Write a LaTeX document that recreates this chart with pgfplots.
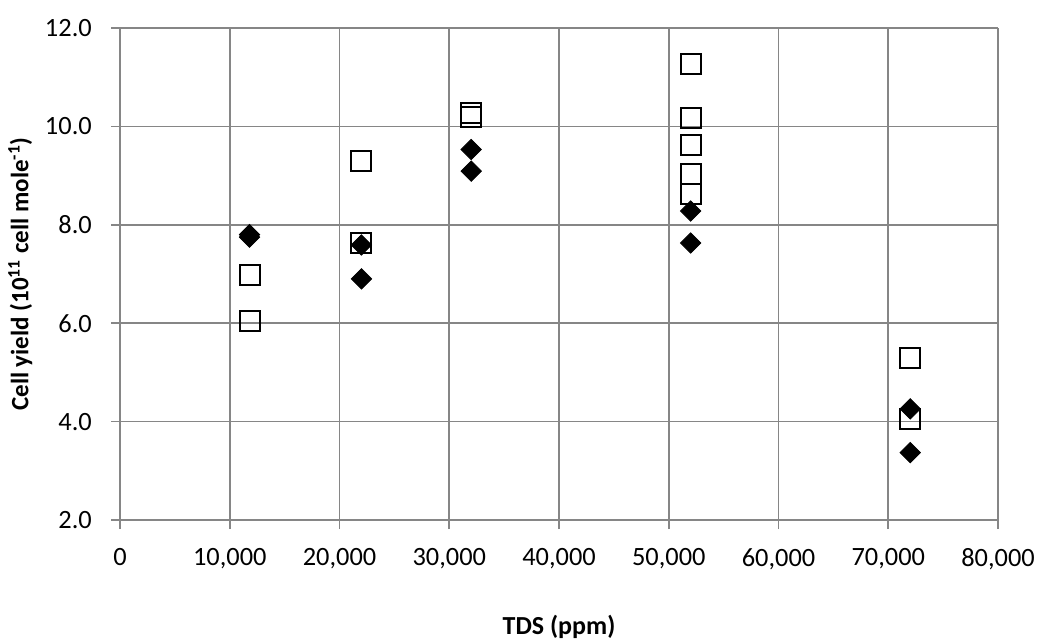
\documentclass[border=0pt]{standalone}
\usepackage{fontspec}
\setmainfont{Carlito}
\usepackage{pgfplots}
\pgfplotsset{compat=1.18}

\definecolor{gridgray}{RGB}{134,134,134}

\begin{document}
\fontsize{13.2}{15}\selectfont
\begin{tikzpicture}
\begin{axis}[
    name=ax,
    at={(0,0)}, anchor=south west,
    scale only axis,
    width=439pt, height=246pt,
    xmin=0, xmax=80000,
    ymin=2, ymax=12,
    xtick={0,10000,...,80000},
    ytick={2,4,...,12},
    axis lines=left,
    axis line style={draw=gridgray, line width=0.8pt, -},
    grid=major,
    grid style={draw=gridgray, line width=0.8pt},
    tick align=outside,
    major tick length=4.5pt,
    tick style={draw=gridgray, line width=0.8pt},
    /pgf/number format/assume math mode=true,
    xticklabel style={/pgf/number format/1000 sep={,}, yshift=-5pt},
    yticklabel style={/pgf/number format/.cd, fixed, fixed zerofill, precision=1, /tikz/.cd, xshift=-5pt},
    scaled x ticks=false,
    xlabel={\fontsize{13}{15}\selectfont\bfseries TDS (ppm)},
    ylabel={\fontsize{12.5}{15}\selectfont\bfseries Cell yield (10\textsuperscript{11} cell mole\textsuperscript{-1})},
    xlabel style={at={(axis description cs:0.5,-0.2175)}, anchor=center},
    ylabel style={at={(axis description cs:-0.1135,0.5)}, anchor=center},
    clip=false,
]
% open squares
\addplot[only marks, mark=square, mark size=5pt, mark options={line width=1pt, draw=black, fill=white}] coordinates {
    (11800,6.98) (11800,6.05)
    (22000,9.29) (22000,7.64)
    (32000,10.27) (32000,10.19)
    (52000,11.27) (52000,10.17) (52000,9.63) (52000,9.04) (52000,8.62)
    (72000,5.29) (72000,4.05)
};
% filled diamonds
\addplot[only marks, mark=square*, mark size=3.6pt, mark options={rotate=45, draw=black, fill=black}] coordinates {
    (11800,7.80) (11800,7.75)
    (22000,7.59) (22000,6.90)
    (32000,9.53) (32000,9.09)
    (52000,8.28) (52000,7.63)
    (72000,4.26) (72000,3.37)
};
\end{axis}
\pgfresetboundingbox
\path ([shift={(-60pt,-60pt)}]ax.south west) rectangle ([shift={(19.5pt,14pt)}]ax.north east);
\end{tikzpicture}
\end{document}
